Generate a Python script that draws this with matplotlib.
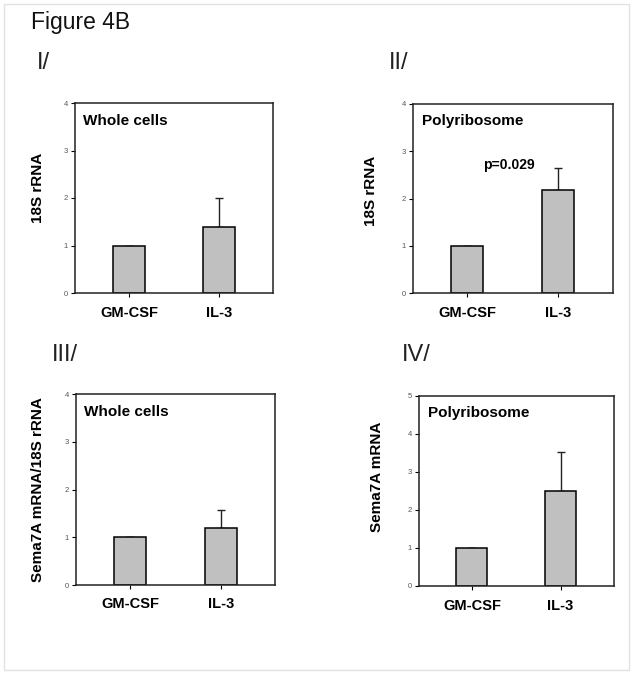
import matplotlib
matplotlib.use("Agg")
import matplotlib.pyplot as plt
from matplotlib.patches import Rectangle

plt.rcParams['font.family'] = ['Liberation Sans', 'DejaVu Sans']

categories = ["GM-CSF", "IL-3"]

panel_ids = ["I/", "II/", "III/", "IV/"]
panel_titles = ["Whole cells", "Polyribosome", "Whole cells", "Polyribosome"]
ylabels = ["18S rRNA", "18S rRNA", "Sema7A mRNA/18S rRNA", "Sema7A mRNA"]

values_I = [1.0, 1.4]
errors_I = [0.0, 0.6]
values_II = [1.0, 2.18]
errors_II = [0.0, 0.46]
values_III = [1.0, 1.19]
errors_III = [0.0, 0.38]
values_IV = [1.0, 2.5]
errors_IV = [0.0, 1.03]

ymax = [4, 4, 4, 5]
pvalue_text = "p=0.029"

W, H = 632, 676
fig = plt.figure(figsize=(W / 100, H / 100), dpi=100)

# light outer frame
fig.patches.append(Rectangle((4 / W, 1 - 670 / H), 625 / W, 666 / H,
                             transform=fig.transFigure, fill=False,
                             edgecolor='#e2e2e2', linewidth=1.0))

fig.text(31 / W, 1 - 22 / H, "Figure 4B", fontsize=16.5, va='center', ha='left',
         color='#111111')

# axes positions [left, top, width, height] in pixels
ax_px = [
    (75, 103, 198, 190),
    (412.7, 104, 200, 189.3),
    (76, 394.3, 199, 190.7),
    (418.7, 395.7, 195, 190.3),
]
label_pos = [(-0.152, 0.555), (-0.175, 0.54), (-0.156, 0.50), (-0.178, 0.574)]
id_pos = [(37, 63), (389, 63), (52, 355), (402, 355)]
title_pos = [(0.04, 0.907), (0.047, 0.91), (0.04, 0.907), (0.046, 0.907)]

all_vals = [values_I, values_II, values_III, values_IV]
all_errs = [errors_I, errors_II, errors_III, errors_IV]

x = [0, 1]
for i in range(4):
    l, t, w, h = ax_px[i]
    ax = fig.add_axes([l / W, 1 - (t + h) / H, w / W, h / H])
    ax.bar(x, all_vals[i], width=0.35, color='#c0c0c0', edgecolor='black',
           linewidth=1.1, zorder=2)
    ax.errorbar(x, all_vals[i], yerr=[[0, 0], all_errs[i]], fmt='none',
                ecolor='#222222', elinewidth=1.0, capsize=3, capthick=1.0, zorder=1)
    ax.set_xlim(-0.6, 1.6)
    ax.set_ylim(0, ymax[i])
    ax.set_yticks(range(0, ymax[i] + 1))
    ax.set_xticks(x)
    ax.set_xticklabels(categories, fontsize=10.5, fontweight='bold')
    ax.tick_params(axis='y', labelsize=5.5, labelcolor='#555555', length=3,
                   width=0.8, pad=2, direction='out')
    ax.tick_params(axis='x', length=3, width=0.8, pad=6, direction='out')
    for s in ax.spines.values():
        s.set_linewidth(1.1)
        s.set_color('#222222')
    ax.set_ylabel(ylabels[i], fontsize=11, fontweight='bold')
    ax.yaxis.set_label_coords(*label_pos[i])
    ax.text(title_pos[i][0], title_pos[i][1], panel_titles[i], transform=ax.transAxes,
            fontsize=11, fontweight='bold', ha='left', va='center')
    fig.text(id_pos[i][0] / W, 1 - id_pos[i][1] / H, panel_ids[i], fontsize=17,
             ha='left', va='center', color='#222222')
    if i == 1:
        ax.text(0.455, 2.72, pvalue_text, fontsize=10, fontweight='bold',
                ha='center', va='center')

fig.savefig("out.png", dpi=100, facecolor='white')
